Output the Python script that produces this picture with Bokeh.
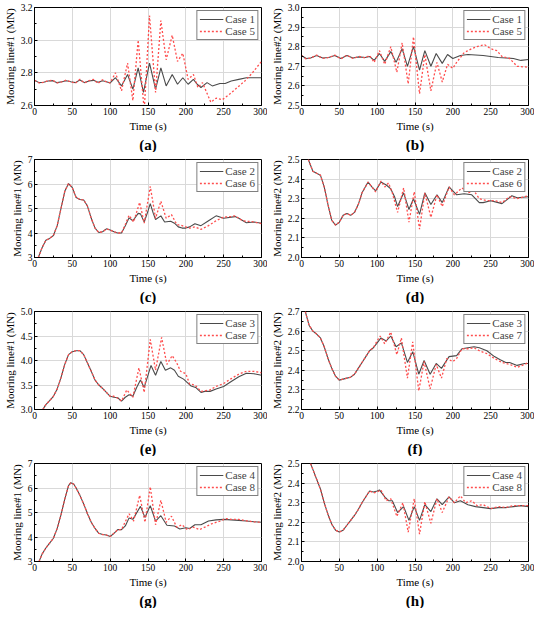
from bokeh.plotting import figure
from bokeh.layouts import gridplot
from bokeh.models import FixedTicker, PrintfTickFormatter, Range1d, Title, Legend, LegendItem
from bokeh.embed import file_html
from bokeh.resources import INLINE

FONT = "'Liberation Serif', 'DejaVu Serif', serif"

# ---------------- data ----------------
x_ticks = [0, 50, 100, 150, 200, 250, 300]

# (a) Mooring line#1, Case 1 vs Case 5
a_c1_t = [0, 6, 12, 18, 24, 30, 36, 42, 48, 54, 60, 66, 72, 78, 84, 90, 95, 100, 107, 115, 123, 130, 137, 144, 152, 160, 167, 174, 182, 189, 196, 203, 210, 215, 220, 228, 235, 245, 252, 260, 270, 280, 290, 300]
a_c1_y = [2.755, 2.740, 2.742, 2.750, 2.752, 2.740, 2.745, 2.752, 2.745, 2.740, 2.756, 2.740, 2.750, 2.754, 2.742, 2.752, 2.745, 2.738, 2.770, 2.720, 2.790, 2.700, 2.830, 2.680, 2.860, 2.700, 2.830, 2.720, 2.790, 2.730, 2.770, 2.730, 2.760, 2.730, 2.710, 2.740, 2.720, 2.735, 2.735, 2.750, 2.760, 2.770, 2.770, 2.770]
a_c5_t = [0, 6, 12, 18, 24, 30, 36, 42, 48, 54, 60, 66, 72, 78, 84, 90, 95, 100, 107, 115, 123, 130, 137, 145, 152, 160, 167, 174, 182, 189, 196, 203, 210, 216, 222, 233, 240, 248, 258, 268, 278, 288, 300]
a_c5_y = [2.755, 2.738, 2.742, 2.752, 2.755, 2.738, 2.745, 2.755, 2.745, 2.736, 2.760, 2.738, 2.752, 2.760, 2.735, 2.758, 2.745, 2.738, 2.800, 2.690, 2.860, 2.630, 3.000, 2.570, 3.150, 2.680, 3.120, 2.880, 3.030, 2.870, 2.920, 2.760, 2.790, 2.710, 2.740, 2.620, 2.645, 2.635, 2.670, 2.710, 2.750, 2.800, 2.870]

# (b) Mooring line#2, Case 1 vs Case 5
b_c1_t = [0, 6, 12, 20, 28, 36, 44, 52, 60, 68, 76, 84, 90, 96, 103, 110, 118, 125, 133, 140, 148, 156, 163, 171, 178, 186, 193, 200, 210, 220, 240, 260, 280, 290, 300]
b_c1_y = [2.755, 2.740, 2.742, 2.755, 2.742, 2.745, 2.755, 2.740, 2.755, 2.742, 2.748, 2.745, 2.750, 2.730, 2.765, 2.725, 2.775, 2.720, 2.790, 2.700, 2.800, 2.680, 2.780, 2.700, 2.765, 2.715, 2.760, 2.740, 2.755, 2.760, 2.755, 2.745, 2.740, 2.730, 2.735]
b_c5_t = [0, 6, 12, 20, 28, 36, 44, 52, 60, 68, 76, 84, 90, 96, 103, 110, 118, 126, 133, 141, 148, 156, 163, 171, 179, 186, 193, 200, 205, 215, 225, 232, 242, 250, 258, 265, 275, 285, 300]
b_c5_y = [2.755, 2.738, 2.742, 2.757, 2.740, 2.745, 2.757, 2.738, 2.757, 2.740, 2.750, 2.743, 2.755, 2.720, 2.780, 2.710, 2.800, 2.670, 2.820, 2.610, 2.850, 2.560, 2.760, 2.575, 2.720, 2.620, 2.710, 2.690, 2.720, 2.770, 2.790, 2.800, 2.810, 2.790, 2.780, 2.750, 2.740, 2.700, 2.695]

# (c) Mooring line#1, Case 2 vs Case 6
c_c2_t = [5, 10, 15, 20, 25, 30, 35, 40, 45, 50, 55, 60, 65, 70, 75, 80, 85, 90, 95, 100, 105, 110, 115, 120, 125, 130, 137, 140, 145, 150, 153, 157, 160, 167, 172, 180, 185, 190, 195, 200, 205, 212, 220, 230, 240, 250, 265, 270, 280, 290, 300]
c_c2_y = [3.00, 3.40, 3.70, 3.78, 3.90, 4.30, 5.00, 5.70, 6.02, 5.85, 5.45, 5.37, 5.35, 5.10, 4.60, 4.20, 4.02, 4.05, 4.17, 4.12, 4.05, 4.00, 4.00, 4.30, 4.62, 4.50, 4.80, 4.78, 4.45, 4.90, 5.20, 4.80, 4.55, 4.70, 4.45, 4.48, 4.40, 4.25, 4.20, 4.20, 4.25, 4.38, 4.30, 4.50, 4.70, 4.60, 4.67, 4.60, 4.42, 4.45, 4.40]
c_c6_t = [5, 10, 15, 20, 25, 30, 35, 40, 45, 50, 55, 60, 65, 70, 75, 80, 85, 90, 95, 100, 105, 110, 115, 120, 125, 131, 139, 145, 153, 160, 167, 174, 181, 188, 195, 205, 212, 220, 230, 240, 250, 260, 265, 275, 290, 300]
c_c6_y = [3.00, 3.40, 3.70, 3.78, 3.90, 4.30, 5.00, 5.70, 6.02, 5.85, 5.45, 5.37, 5.35, 5.10, 4.60, 4.20, 4.02, 4.05, 4.17, 4.12, 4.05, 4.00, 4.00, 4.35, 4.72, 4.45, 5.25, 4.40, 5.90, 4.60, 5.30, 4.60, 4.75, 4.35, 4.30, 4.20, 4.25, 4.15, 4.30, 4.50, 4.65, 4.67, 4.70, 4.50, 4.45, 4.38]

# (d) Mooring line#2, Case 2 vs Case 6
d_c2_t = [9, 15, 20, 25, 30, 35, 40, 45, 50, 55, 60, 65, 70, 75, 80, 88, 93, 98, 105, 112, 118, 123, 127, 135, 142, 148, 156, 163, 171, 179, 186, 195, 200, 205, 215, 225, 235, 240, 250, 260, 265, 270, 278, 285, 300]
d_c2_y = [2.50, 2.44, 2.43, 2.42, 2.36, 2.27, 2.19, 2.165, 2.18, 2.215, 2.225, 2.215, 2.23, 2.27, 2.33, 2.385, 2.36, 2.34, 2.385, 2.37, 2.35, 2.31, 2.26, 2.33, 2.245, 2.30, 2.22, 2.33, 2.27, 2.32, 2.28, 2.36, 2.34, 2.32, 2.325, 2.32, 2.28, 2.28, 2.29, 2.28, 2.275, 2.29, 2.315, 2.305, 2.31]
d_c6_t = [9, 15, 20, 25, 30, 35, 40, 45, 50, 55, 60, 65, 70, 75, 80, 88, 93, 98, 105, 110, 115, 120, 127, 135, 142, 149, 156, 163, 171, 179, 186, 195, 202, 212, 220, 228, 235, 245, 255, 265, 275, 285, 300]
d_c6_y = [2.50, 2.44, 2.43, 2.42, 2.36, 2.27, 2.19, 2.165, 2.18, 2.215, 2.225, 2.215, 2.23, 2.27, 2.33, 2.385, 2.36, 2.335, 2.39, 2.36, 2.38, 2.33, 2.23, 2.355, 2.18, 2.335, 2.145, 2.33, 2.205, 2.32, 2.26, 2.36, 2.32, 2.355, 2.33, 2.34, 2.30, 2.29, 2.29, 2.28, 2.31, 2.30, 2.315]

# (e) Mooring line#1, Case 3 vs Case 7
e_c3_t = [11, 15, 20, 25, 30, 35, 40, 45, 50, 55, 60, 65, 70, 75, 80, 85, 90, 95, 100, 105, 110, 115, 120, 125, 130, 135, 140, 145, 150, 154, 160, 167, 173, 180, 185, 190, 197, 202, 207, 213, 220, 225, 232, 240, 250, 260, 270, 280, 290, 300]
e_c3_y = [3.00, 3.10, 3.18, 3.27, 3.42, 3.65, 3.92, 4.12, 4.18, 4.20, 4.20, 4.12, 3.95, 3.78, 3.60, 3.50, 3.43, 3.35, 3.27, 3.25, 3.24, 3.17, 3.25, 3.30, 3.27, 3.45, 3.60, 3.45, 3.70, 3.90, 3.70, 3.98, 3.80, 3.85, 3.80, 3.68, 3.62, 3.55, 3.48, 3.45, 3.35, 3.37, 3.37, 3.42, 3.47, 3.57, 3.67, 3.74, 3.73, 3.70]
e_c7_t = [11, 15, 20, 25, 30, 35, 40, 45, 50, 55, 60, 65, 70, 75, 80, 85, 90, 95, 100, 105, 110, 115, 122, 130, 138, 145, 153, 160, 168, 175, 182, 188, 193, 200, 205, 212, 220, 225, 232, 240, 250, 260, 270, 280, 290, 300]
e_c7_y = [3.00, 3.10, 3.18, 3.27, 3.42, 3.65, 3.92, 4.12, 4.18, 4.20, 4.20, 4.12, 3.95, 3.78, 3.60, 3.50, 3.43, 3.35, 3.27, 3.27, 3.23, 3.17, 3.40, 3.25, 3.85, 3.35, 4.43, 3.80, 4.47, 3.92, 4.10, 3.95, 3.78, 3.73, 3.52, 3.50, 3.37, 3.38, 3.40, 3.47, 3.53, 3.63, 3.72, 3.78, 3.78, 3.75]

# (f) Mooring line#2, Case 3 vs Case 7
f_c3_t = [5, 10, 15, 20, 25, 30, 35, 40, 45, 50, 55, 60, 65, 70, 75, 80, 85, 90, 95, 100, 105, 112, 118, 125, 132, 140, 147, 155, 162, 170, 178, 185, 195, 205, 212, 220, 228, 235, 245, 255, 262, 270, 275, 285, 295, 300]
f_c3_y = [2.70, 2.63, 2.60, 2.585, 2.565, 2.52, 2.46, 2.41, 2.37, 2.35, 2.355, 2.36, 2.365, 2.38, 2.41, 2.44, 2.47, 2.50, 2.515, 2.54, 2.565, 2.55, 2.575, 2.52, 2.54, 2.44, 2.495, 2.38, 2.45, 2.38, 2.435, 2.41, 2.47, 2.475, 2.51, 2.515, 2.52, 2.515, 2.50, 2.47, 2.455, 2.44, 2.44, 2.425, 2.435, 2.435]
f_c7_t = [5, 10, 15, 20, 25, 30, 35, 40, 45, 50, 55, 60, 65, 70, 75, 80, 85, 90, 95, 100, 104, 110, 118, 126, 132, 140, 147, 155, 162, 170, 178, 185, 192, 200, 205, 212, 220, 228, 235, 245, 255, 265, 275, 285, 295, 300]
f_c7_y = [2.70, 2.63, 2.60, 2.585, 2.565, 2.52, 2.46, 2.41, 2.37, 2.35, 2.355, 2.36, 2.365, 2.38, 2.41, 2.44, 2.47, 2.50, 2.515, 2.55, 2.575, 2.535, 2.595, 2.48, 2.565, 2.36, 2.545, 2.295, 2.445, 2.305, 2.43, 2.36, 2.46, 2.445, 2.46, 2.51, 2.51, 2.515, 2.50, 2.485, 2.46, 2.44, 2.43, 2.415, 2.43, 2.44]

# (g) Mooring line#1, Case 4 vs Case 8
g_c4_t = [6, 10, 15, 20, 25, 30, 35, 40, 45, 48, 52, 55, 60, 65, 70, 75, 80, 85, 90, 95, 100, 105, 110, 115, 120, 125, 130, 140, 146, 153, 160, 167, 175, 185, 192, 200, 205, 212, 220, 230, 240, 250, 260, 270, 280, 290, 300]
g_c4_y = [3.00, 3.30, 3.55, 3.75, 3.95, 4.35, 4.90, 5.55, 6.10, 6.22, 6.15, 6.00, 5.70, 5.35, 4.95, 4.60, 4.35, 4.15, 4.10, 4.08, 4.02, 4.15, 4.30, 4.30, 4.45, 4.78, 4.72, 5.25, 4.80, 5.28, 4.65, 4.87, 4.48, 4.45, 4.33, 4.38, 4.35, 4.50, 4.50, 4.65, 4.70, 4.72, 4.70, 4.68, 4.65, 4.62, 4.60]
g_c8_t = [6, 10, 15, 20, 25, 30, 35, 40, 45, 48, 52, 55, 60, 65, 70, 75, 80, 85, 90, 95, 100, 105, 110, 115, 125, 131, 139, 146, 153, 160, 167, 174, 181, 188, 195, 202, 210, 218, 225, 235, 245, 253, 260, 270, 280, 290, 300]
g_c8_y = [3.00, 3.30, 3.55, 3.75, 3.95, 4.35, 4.90, 5.55, 6.10, 6.22, 6.15, 6.00, 5.70, 5.35, 4.95, 4.60, 4.35, 4.15, 4.10, 4.08, 4.02, 4.15, 4.30, 4.30, 4.95, 4.65, 5.70, 4.60, 6.05, 4.50, 5.50, 4.60, 4.85, 4.40, 4.50, 4.30, 4.40, 4.30, 4.40, 4.55, 4.65, 4.75, 4.72, 4.72, 4.66, 4.62, 4.60]

# (h) Mooring line#2, Case 4 vs Case 8
h_c4_t = [12, 15, 20, 25, 30, 35, 40, 45, 50, 55, 60, 65, 70, 75, 80, 85, 90, 95, 100, 103, 110, 115, 120, 127, 135, 142, 149, 156, 163, 171, 179, 186, 195, 202, 210, 220, 230, 240, 250, 260, 270, 280, 290, 300]
h_c4_y = [2.50, 2.47, 2.42, 2.37, 2.30, 2.24, 2.19, 2.16, 2.15, 2.16, 2.185, 2.21, 2.235, 2.265, 2.30, 2.33, 2.36, 2.355, 2.36, 2.365, 2.33, 2.31, 2.31, 2.25, 2.28, 2.21, 2.28, 2.21, 2.29, 2.255, 2.32, 2.29, 2.33, 2.30, 2.31, 2.29, 2.28, 2.275, 2.27, 2.275, 2.275, 2.28, 2.285, 2.28]
h_c8_t = [12, 15, 20, 25, 30, 35, 40, 45, 50, 55, 60, 65, 70, 75, 80, 85, 90, 95, 100, 105, 112, 118, 126, 134, 141, 149, 156, 163, 171, 179, 186, 195, 202, 210, 217, 225, 232, 240, 250, 260, 270, 280, 290, 300]
h_c8_y = [2.50, 2.47, 2.42, 2.37, 2.30, 2.24, 2.19, 2.16, 2.15, 2.16, 2.185, 2.21, 2.235, 2.265, 2.30, 2.33, 2.36, 2.35, 2.355, 2.365, 2.31, 2.32, 2.23, 2.30, 2.15, 2.32, 2.14, 2.305, 2.195, 2.32, 2.25, 2.33, 2.30, 2.335, 2.30, 2.31, 2.285, 2.29, 2.27, 2.28, 2.275, 2.285, 2.285, 2.285]

panels = [
    ("(a)", "Mooring line#1 (MN)", (2.6, 3.2), [2.6, 2.8, 3.0, 3.2], "%.1f", ("Case 1", a_c1_t, a_c1_y), ("Case 5", a_c5_t, a_c5_y)),
    ("(b)", "Mooring line#2 (MN)", (2.5, 3.0), [2.5, 2.6, 2.7, 2.8, 2.9, 3.0], "%.1f", ("Case 1", b_c1_t, b_c1_y), ("Case 5", b_c5_t, b_c5_y)),
    ("(c)", "Mooring line#1 (MN)", (3, 7), [3, 4, 5, 6, 7], "%d", ("Case 2", c_c2_t, c_c2_y), ("Case 6", c_c6_t, c_c6_y)),
    ("(d)", "Mooring line#2 (MN)", (2.0, 2.5), [2.0, 2.1, 2.2, 2.3, 2.4, 2.5], "%.1f", ("Case 2", d_c2_t, d_c2_y), ("Case 6", d_c6_t, d_c6_y)),
    ("(e)", "Mooring line#1 (MN)", (3.0, 5.0), [3.0, 3.5, 4.0, 4.5, 5.0], "%.1f", ("Case 3", e_c3_t, e_c3_y), ("Case 7", e_c7_t, e_c7_y)),
    ("(f)", "Mooring line#2 (MN)", (2.2, 2.7), [2.2, 2.3, 2.4, 2.5, 2.6, 2.7], "%.1f", ("Case 3", f_c3_t, f_c3_y), ("Case 7", f_c7_t, f_c7_y)),
    ("(g)", "Mooring line#1 (MN)", (3, 7), [3, 4, 5, 6, 7], "%d", ("Case 4", g_c4_t, g_c4_y), ("Case 8", g_c8_t, g_c8_y)),
    ("(h)", "Mooring line#2 (MN)", (2.0, 2.5), [2.0, 2.1, 2.2, 2.3, 2.4, 2.5], "%.1f", ("Case 4", h_c4_t, h_c4_y), ("Case 8", h_c8_t, h_c8_y)),
]

SOLID = "#4a4a4a"
RED = "#ff4d4d"


def style_axis(ax):
    ax.major_label_text_font = FONT
    ax.major_label_text_font_size = "9.5px"
    ax.major_label_text_color = "black"
    ax.axis_label_text_font = FONT
    ax.axis_label_text_font_style = "normal"
    ax.axis_label_text_font_size = "11px"
    ax.axis_label_text_color = "black"
    ax.major_tick_in = 3
    ax.major_tick_out = 0
    ax.minor_tick_in = 2
    ax.minor_tick_out = 0
    ax.axis_line_color = "black"
    ax.major_label_standoff = 2
    ax.axis_label_standoff = 2


figs = []
for tag, ylab, yr, yt, fmt, s1, s2 in panels:
    p = figure(width=267, height=152, output_backend="svg", toolbar_location=None,
               x_range=Range1d(0, 300), y_range=Range1d(*yr),
               min_border_left=2, min_border_right=6, min_border_top=7, min_border_bottom=0)
    p.outline_line_color = "black"
    p.outline_line_width = 1
    p.background_fill_color = "white"
    p.border_fill_color = "white"
    step = yt[1] - yt[0]

    style_axis(p.xaxis[0])
    style_axis(p.yaxis[0])
    p.xaxis.ticker = FixedTicker(ticks=x_ticks, minor_ticks=[25, 75, 125, 175, 225, 275])
    p.xaxis.formatter = PrintfTickFormatter(format="%d")
    p.xaxis.axis_label = "Time (s)"
    p.yaxis.ticker = FixedTicker(ticks=yt, minor_ticks=[v + step / 2 for v in yt[:-1]])
    p.yaxis.formatter = PrintfTickFormatter(format=fmt)
    p.yaxis.axis_label = ylab

    p.xgrid.grid_line_color = "#d9d9d9"
    p.ygrid.grid_line_color = "#d9d9d9"
    p.xgrid.ticker = FixedTicker(ticks=x_ticks)
    p.ygrid.ticker = FixedTicker(ticks=yt)

    r1 = p.line(s1[1], s1[2], line_color=SOLID, line_width=1.1)
    r2 = p.line(s2[1], s2[2], line_color=RED, line_width=1.3, line_dash="2 2")

    leg = Legend(items=[LegendItem(label=s1[0], renderers=[r1]), LegendItem(label=s2[0], renderers=[r2])],
                 location="top_right", label_text_font=FONT, label_text_font_size="11px",
                 label_height=10, glyph_height=10, glyph_width=24, spacing=0, padding=2, margin=3,
                 border_line_color="black", border_line_width=1, background_fill_alpha=1,
                 label_standoff=2)
    p.add_layout(leg, "center")

    t = Title(text=tag, align="center", text_font=FONT, text_font_size="15px",
              text_font_style="bold", text_color="black", offset=0, standoff=0)
    p.add_layout(t, "below")
    figs.append(p)

grid = gridplot([[figs[0], figs[1]], [figs[2], figs[3]], [figs[4], figs[5]], [figs[6], figs[7]]],
                toolbar_location=None)

open("out.html", "w").write(file_html(grid, INLINE))
